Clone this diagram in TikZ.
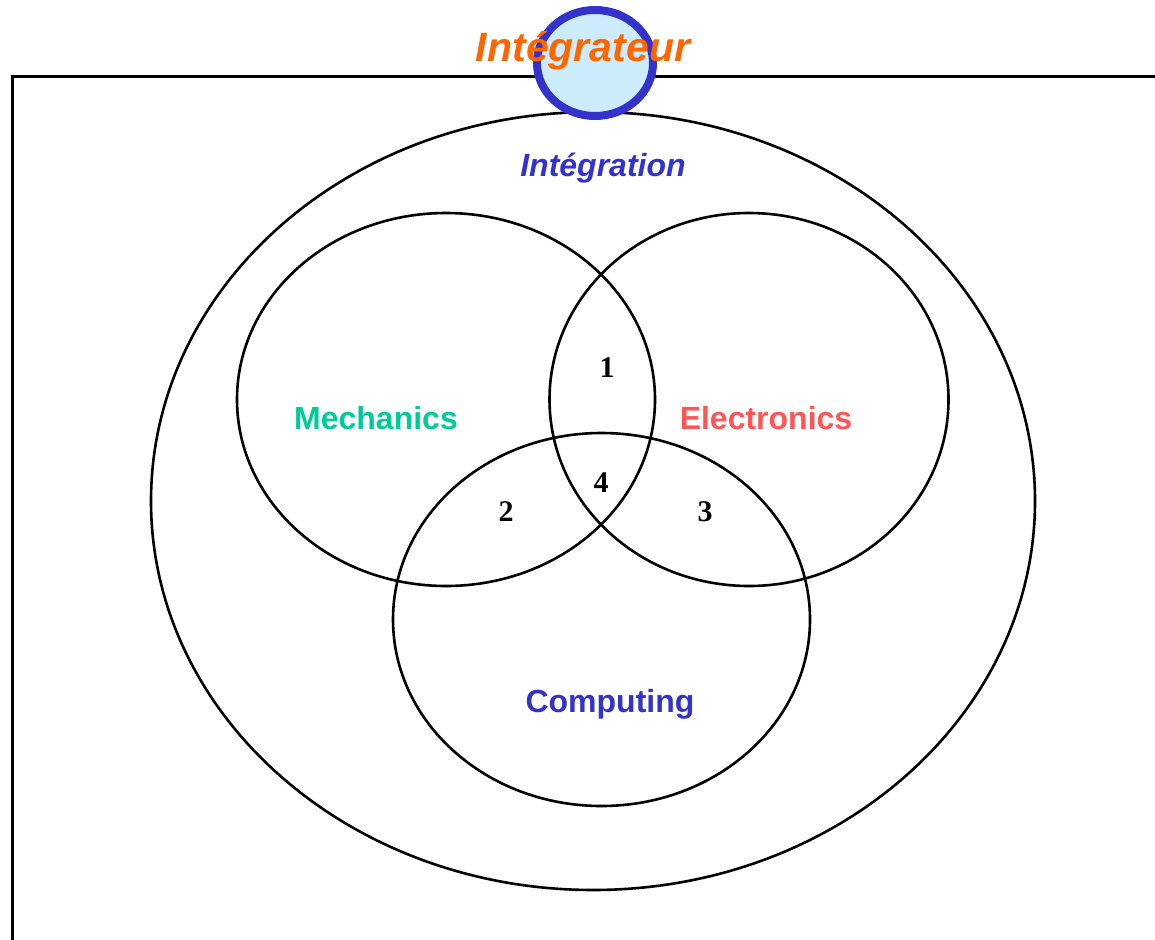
\documentclass[tikz,border=0pt]{standalone}
\usepackage{fontspec}
\setmainfont{Liberation Sans}
\newfontfamily\numfont{Liberation Serif}
\definecolor{intblue}{HTML}{3333CC}
\definecolor{lightfill}{HTML}{CCEBFB}
\definecolor{orangetxt}{HTML}{FF6600}
\definecolor{greentxt}{HTML}{00CC99}
\definecolor{redtxt}{HTML}{FF5555}
\begin{document}
\begin{tikzpicture}[x=1pt,y=-1pt,
  ring/.style={draw=black,line width=2.6pt},
  lab/.style={font=\fontsize{32}{36}\selectfont\bfseries},
  num/.style={font=\numfont\fontsize{30}{33}\selectfont\bfseries,text=black}]
\useasboundingbox (0,0) rectangle (1155,939);
% frame
\draw[line width=3pt] (12,945) -- (12,77) -- (1160,77);
% outer ellipse
\draw[ring] (593,501) ellipse [x radius=442, y radius=389];
% three circles
\draw[ring] (446,399.5) ellipse [x radius=209, y radius=186.5];
\draw[ring] (749,399.5) ellipse [x radius=199.5, y radius=186.5];
\draw[ring] (601.5,619.5) ellipse [x radius=208.5, y radius=186.5];
% integrator badge
\draw[draw=intblue,fill=lightfill,line width=8pt] (595,63) ellipse [x radius=58, y radius=53];
\node[text=orangetxt,font=\fontsize{41}{46}\selectfont\bfseries\itshape,anchor=base] (integrateur) at (583,62) {Intégrateur};
% labels
\node[text=intblue,font=\fontsize{32}{36}\selectfont\bfseries\itshape,anchor=base] (integration) at (603,176) {Intégration};
\node[lab,text=greentxt,anchor=base] (mech) at (376,429) {Mechanics};
\node[lab,text=redtxt,anchor=base] (elec) at (766,429) {Electronics};
\node[lab,text=intblue,anchor=base] (comp) at (610,712) {Computing};
% numbers
\node[num,anchor=base] (n1) at (607,377) {1};
\node[num,anchor=base] (n4) at (601,492) {4};
\node[num,anchor=base] (n2) at (506,521) {2};
\node[num,anchor=base] (n3) at (705,521) {3};
\end{tikzpicture}
\end{document}
